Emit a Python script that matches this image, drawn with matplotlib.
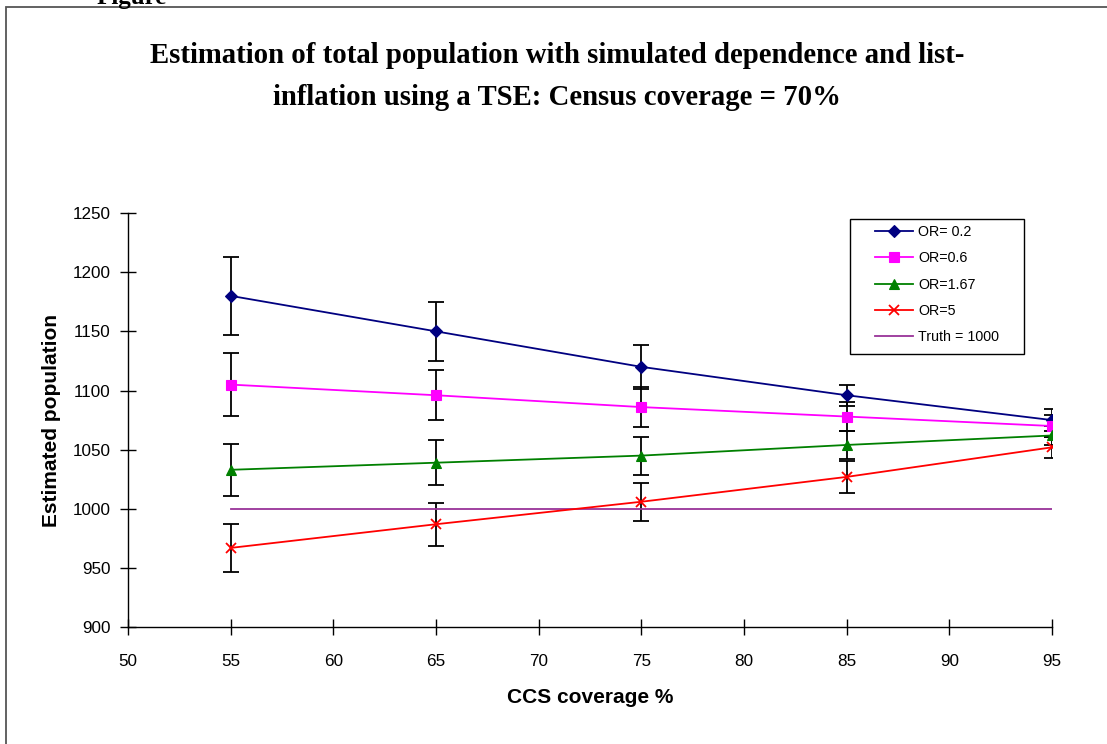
import matplotlib

matplotlib.use("Agg")
import matplotlib.pyplot as plt
from matplotlib.patches import Rectangle

# ------------------------------------------------------------------
# Data
# ------------------------------------------------------------------
ccs_coverage = [55, 65, 75, 85, 95]

est_or_02 = [1180, 1150, 1120, 1096, 1075]
err_or_02 = [33, 25, 18.5, 9, 9]

est_or_06 = [1105, 1096, 1086, 1078, 1070]
err_or_06 = [26.5, 21, 17, 12, 9]

est_or_167 = [1033, 1039, 1045, 1054, 1062]
err_or_167 = [22, 19, 16, 12, 8]

est_or_5 = [967, 987, 1006, 1027, 1052]
err_or_5 = [20, 18, 16, 13.5, 9]

truth_x = [55, 95]
truth_y = [1000, 1000]

x_ticks = [50, 55, 60, 65, 70, 75, 80, 85, 90, 95]
y_ticks = [900, 950, 1000, 1050, 1100, 1150, 1200, 1250]

series = [
    ("OR= 0.2", est_or_02, err_or_02, "#000080", "D", 6.5),
    ("OR=0.6", est_or_06, err_or_06, "#FF00FF", "s", 7),
    ("OR=1.67", est_or_167, err_or_167, "#008000", "^", 7.5),
    ("OR=5", est_or_5, err_or_5, "#FF0000", "x", 7),
]

sans = ["Liberation Sans", "Arial", "DejaVu Sans"]
serif = ["Liberation Serif", "Times New Roman", "DejaVu Serif"]

fig = plt.figure(figsize=(11.07, 7.44), dpi=100)
ax = fig.add_axes([0.1156, 0.157, 0.8347, 0.5567])

# outer frame of the original figure (left + top edges visible)
fig.patches.append(Rectangle((6 / 1107, -0.01), 1.1, 1 - 7 / 744 + 0.01,
                             transform=fig.transFigure, fill=False,
                             edgecolor="#555555", linewidth=1.3))
# caption of the source page, mostly cropped away at the top edge
fig.text(0.087, 1.003, "Figure", family=serif, fontsize=18, fontweight="bold",
         ha="left", va="center")

for label, y, err, color, marker, ms in series:
    ax.errorbar(ccs_coverage, y, yerr=err, fmt="none", ecolor="black",
                elinewidth=1.3, capsize=5.5, capthick=1.3, zorder=2)
    ax.plot(ccs_coverage, y, color=color, marker=marker, markersize=ms,
            markeredgewidth=1.3 if marker == "x" else 0.8,
            linewidth=1.3, label=label, zorder=3)

ax.plot(truth_x, truth_y, color="#993399", linewidth=1.3,
        label="Truth = 1000", zorder=2.5)

ax.set_xlim(50, 95)
ax.set_ylim(900, 1250)
ax.set_xticks(x_ticks)
ax.set_yticks(y_ticks)
ax.spines["top"].set_visible(False)
ax.spines["right"].set_visible(False)
for side in ("left", "bottom"):
    ax.spines[side].set_linewidth(1.0)
ax.tick_params(axis="x", direction="inout", length=12, width=1.0, pad=13)
ax.tick_params(axis="y", direction="inout", length=11.5, width=1.0, pad=7)
for lbl in ax.get_xticklabels() + ax.get_yticklabels():
    lbl.set_family(sans)
    lbl.set_fontsize(12.3)

ax.set_xlabel("CCS coverage %", family=sans, fontsize=15, fontweight="bold",
              labelpad=14)
ax.set_ylabel("Estimated population", family=sans, fontsize=15,
              fontweight="bold", labelpad=8)

fig.text(0.503, 0.897,
         "Estimation of total population with simulated dependence and list-\n"
         "inflation using a TSE: Census coverage = 70%",
         family=serif, fontsize=20.7, fontweight="bold", ha="center",
         va="center", linespacing=1.72)

# legend box drawn as in the original (wider padding on the left)
ax.add_patch(Rectangle((0.7814, 0.6594), 0.1883, 0.3261,
                       transform=ax.transAxes, fill=False,
                       edgecolor="black", linewidth=1.0, zorder=5,
                       clip_on=False))
leg = ax.legend(loc="upper left", bbox_to_anchor=(0.8084, 0.971),
                prop={"family": sans, "size": 10.3}, frameon=False,
                borderpad=0, labelspacing=0.86, handlelength=2.66,
                handletextpad=0.35, borderaxespad=0)

fig.savefig("out.png", dpi=100)
